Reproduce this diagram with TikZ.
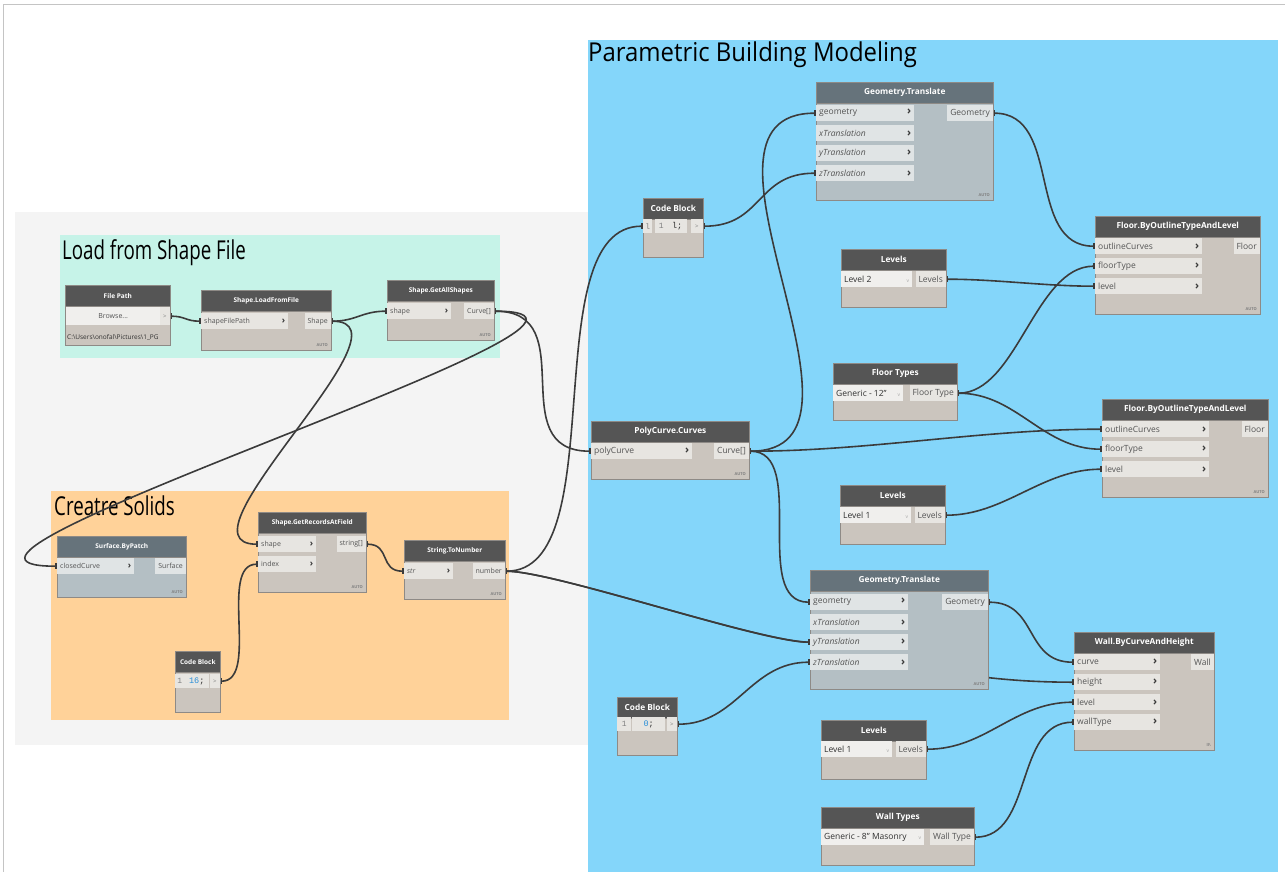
\documentclass[tikz,border=0pt]{standalone}
\usepackage{fontspec}
\setmainfont{Open Sans}
\newfontfamily\codefam{Liberation Mono}
\usepackage{graphicx}
\usetikzlibrary{arrows.meta}
\pgfdeclarelayer{bg}
\pgfdeclarelayer{wires}
\pgfsetlayers{bg,wires,main}

\definecolor{bluegrp}{HTML}{84D6FA}
\definecolor{greengrp}{HTML}{C6F3E8}
\definecolor{orangegrp}{HTML}{FFD299}
\definecolor{graybg}{HTML}{F4F4F4}
\definecolor{framec}{HTML}{C4C4C4}
\definecolor{headdark}{HTML}{555555}
\definecolor{headslate}{HTML}{66737B}
\definecolor{bodywarm}{HTML}{CBC5BE}
\definecolor{bodyslate}{HTML}{B4BFC4}
\definecolor{portwarm}{HTML}{E7E5E1}
\definecolor{portslate}{HTML}{E0E4E5}
\definecolor{ddfill}{HTML}{F0EFED}
\definecolor{edgec}{HTML}{8E8A86}
\definecolor{wirec}{HTML}{3B3B3B}
\definecolor{txt}{HTML}{555555}
\definecolor{ddtext}{HTML}{303030}
\definecolor{chevc}{HTML}{3A3A3A}
\definecolor{codeblue}{HTML}{2A8FD8}

\newcommand{\portfont}{\fontsize{8.5}{10}\selectfont}
\newcommand{\headfont}{\fontsize{8.3}{9}\selectfont\bfseries}
\newcommand{\chev}{{\color{chevc}\fontsize{11}{10}\selectfont\bfseries ›}}
\newcommand{\ddmark}{{\color{gray!70}\fontsize{5}{5}\selectfont v}}

% node frame: body, then header strip on top
\newcommand{\dynnode}[8]{%
  \node[nbody, fill=#8, minimum width=#4pt, minimum height=#5pt] (#1) at (#2,#3) {};
  \node[nhead, fill=#7, minimum width=#4pt] (#1-h) at (#2,#3) {#6};}
% input row with label on the left and chevron on the right
\newcommand{\inport}[6]{%
  \node[prow, fill=#6, minimum width=#4pt] (#1) at (#2,#3)
    {\makebox[\dimexpr#4pt-6pt\relax][l]{#5\hfill\chev}};}
% output label, right aligned to the node edge
\newcommand{\outport}[5]{%
  \node[prow, fill=#5, anchor=north east] (#1) at (#2,#3) {#4};}
% drop-down selector row
\newcommand{\ddport}[5]{%
  \node[prow, fill=ddfill, text=ddtext, minimum width=#4pt] (#1) at (#2,#3)
    {\makebox[\dimexpr#4pt-6pt\relax][l]{#5\hfill\ddmark}};}
\newcommand{\autotag}[4]{\node[autotag] (#1) at (#2,#3) {#4};}

\begin{document}
\begin{tikzpicture}[x=1pt,y=-1pt,
  nbody/.style={anchor=north west, draw=edgec, line width=0.6pt, inner sep=0pt},
  nhead/.style={anchor=north west, draw=edgec, line width=0.6pt, inner sep=0pt,
    minimum height=21pt, text=white, font=\headfont},
  prow/.style={anchor=north west, inner xsep=3pt, inner ysep=0pt, minimum height=16pt,
    text=txt, font=\portfont},
  autotag/.style={anchor=south east, inner sep=0pt, text=gray,
    font=\fontsize{4}{4}\selectfont\bfseries},
  gutter/.style={anchor=north west, fill=portwarm, text=gray, inner xsep=1pt, inner ysep=0pt,
    minimum height=14pt, font=\codefam\fontsize{8}{9}\selectfont},
  coderow/.style={anchor=north west, fill=portwarm, text=ddtext, inner xsep=2pt, inner ysep=0pt,
    minimum height=14pt, font=\codefam\fontsize{8.5}{9}\selectfont},
  cport/.style={anchor=north east, fill=portwarm, text=gray, inner xsep=1pt, inner ysep=0pt,
    minimum height=14pt, minimum width=10pt, font=\fontsize{6}{7}\selectfont},
  grptitle/.style={anchor=base west, inner sep=0pt, text=black, font=\fontsize{26}{30}\selectfont},
  wire/.style={draw=wirec, line width=1.6pt,
    {Rectangle[length=2pt,width=6pt]}-{Rectangle[length=2pt,width=6pt]}},
]
\useasboundingbox (0,0) rectangle (1285,872);

% ---------------- groups ----------------
\begin{pgfonlayer}{bg}
  \fill[white] (0,0) rectangle (1285,872);
  \draw[framec, line width=1pt] (3,872) -- (3,5) -- (1285,5);
  \fill[graybg] (15,212) rectangle (588,745);
  \fill[greengrp] (60,235) rectangle (500,358);
  \fill[orangegrp] (51,491) rectangle (509,720);
  \fill[bluegrp] (588,40) rectangle (1278,872);
  \node[grptitle] (t-pbm) at (588,62) {\scalebox{0.92}[1]{Parametric Building Modeling}};
  \node[grptitle] (t-load) at (62,259) {\scalebox{0.72}[1]{Load from Shape File}};
  \node[grptitle] (t-solid) at (54,515) {\scalebox{0.72}[1]{Creatre Solids}};
\end{pgfonlayer}

% ---------------- left nodes ----------------
\begin{scope}
\renewcommand{\portfont}{\fontsize{7}{8}\selectfont}
\renewcommand{\headfont}{\fontsize{6.5}{7}\selectfont\bfseries}
\renewcommand{\chev}{{\color{chevc}\fontsize{9}{9}\selectfont\bfseries ›}}

\dynnode{fp}{65}{285}{105}{60}{File Path}{headdark}{bodywarm}
\node[prow, fill=ddfill, minimum width=94pt, minimum height=18pt] (fp-btn) at (66,307) {Browse...};
\node[cport, minimum height=18pt] (fp-port) at (170,307) {>};
\node[anchor=west, inner sep=0pt, text=ddtext, font=\fontsize{6.5}{7}\selectfont] (fp-path)
  at (67,338) {C:\textbackslash Users\textbackslash onofal\textbackslash Pictures\textbackslash 1\_PG};

\dynnode{lf}{201}{290}{130}{60}{Shape.LoadFromFile}{headdark}{bodywarm}
\inport{lf-in}{201}{313}{87}{shapeFilePath}{portwarm}
\outport{lf-out}{331}{313}{Shape}{portwarm}
\autotag{lf-a}{328}{347}{AUTO}

\dynnode{ga}{387}{280}{107}{60}{Shape.GetAllShapes}{headdark}{bodywarm}
\inport{ga-in}{387}{303}{64}{shape}{portwarm}
\outport{ga-out}{494}{303}{Curve[]}{portwarm}
\autotag{ga-a}{491}{337}{AUTO}

\dynnode{sb}{57}{536}{129}{61}{Surface.ByPatch}{headslate}{bodyslate}
\inport{sb-in}{57}{558}{77}{closedCurve}{portslate}
\outport{sb-out}{186}{558}{Surface}{portslate}
\autotag{sb-a}{183}{594}{AUTO}

\dynnode{gr}{258}{512}{108}{80}{Shape.GetRecordsAtField}{headdark}{bodywarm}
\inport{gr-shape}{258}{536}{58}{shape}{portwarm}
\inport{gr-index}{258}{556}{58}{index}{portwarm}
\outport{gr-out}{366}{536}{string[]}{portwarm}
\autotag{gr-a}{363}{589}{AUTO}

\dynnode{tn}{404}{540}{101}{59}{String.ToNumber}{headdark}{bodywarm}
\inport{tn-in}{404}{563}{49}{\textit{str}}{portwarm}
\outport{tn-out}{505}{563}{number}{portwarm}
\autotag{tn-a}{502}{596}{AUTO}

\dynnode{cbl}{175}{651}{45}{61}{Code Block}{headdark}{bodywarm}
\node[gutter, minimum width=9pt] (cbl-ln) at (175,674) {1};
\node[coderow, minimum width=25pt] (cbl-code) at (184,674) {\textcolor{codeblue}{16};};
\node[cport] (cbl-port) at (220,674) {>};
\end{scope}

% ---------------- right nodes ----------------
\dynnode{cbt}{643}{198}{60}{59}{Code Block}{headdark}{bodywarm}
\node[gutter, minimum width=9pt, anchor=north west] (cbt-in) at (643,219) {l};
\node[gutter, minimum width=12pt] (cbt-ln) at (655,219) {1};
\node[coderow, minimum width=20pt] (cbt-code) at (667,219) {l;};
\node[cport, minimum width=12pt] (cbt-port) at (703,219) {>};

\dynnode{gtt}{816}{82}{177}{118}{Geometry.Translate}{headslate}{bodyslate}
\inport{gtt-geo}{816}{105}{98}{geometry}{portslate}
\inport{gtt-x}{816}{125}{98}{\textit{xTranslation}}{portslate}
\inport{gtt-y}{816}{145}{98}{\textit{yTranslation}}{portslate}
\inport{gtt-z}{816}{165}{98}{\textit{zTranslation}}{portslate}
\outport{gtt-out}{993}{105}{Geometry}{portslate}
\autotag{gtt-a}{990}{197}{AUTO}

\dynnode{lv2}{841}{249}{105}{58}{Levels}{headdark}{bodywarm}
\ddport{lv2-dd}{841}{271}{71}{Level 2}
\outport{lv2-out}{946}{271}{Levels}{portwarm}

\dynnode{fl1}{1095}{216}{165}{98}{Floor.ByOutlineTypeAndLevel}{headdark}{bodywarm}
\inport{fl1-oc}{1095}{238}{107}{outlineCurves}{portwarm}
\inport{fl1-ft}{1095}{258}{107}{floorType}{portwarm}
\inport{fl1-lv}{1095}{278}{107}{level}{portwarm}
\outport{fl1-out}{1260}{238}{Floor}{portwarm}
\autotag{fl1-a}{1257}{311}{AUTO}

\dynnode{ft}{833}{363}{124}{57}{Floor Types}{headdark}{bodywarm}
\ddport{ft-dd}{833}{385}{70}{Generic - 12"}
\outport{ft-out}{957}{385}{Floor Type}{portwarm}

\dynnode{pc}{591}{421}{158}{58}{PolyCurve.Curves}{headdark}{bodywarm}
\inport{pc-in}{591}{443}{101}{polyCurve}{portwarm}
\outport{pc-out}{749}{443}{Curve[]}{portwarm}
\autotag{pc-a}{746}{476}{AUTO}

\dynnode{fl2}{1102}{399}{166}{98}{Floor.ByOutlineTypeAndLevel}{headdark}{bodywarm}
\inport{fl2-oc}{1102}{421}{107}{outlineCurves}{portwarm}
\inport{fl2-ft}{1102}{441}{107}{floorType}{portwarm}
\inport{fl2-lv}{1102}{461}{107}{level}{portwarm}
\outport{fl2-out}{1268}{421}{Floor}{portwarm}
\autotag{fl2-a}{1265}{494}{AUTO}

\dynnode{lv1}{840}{485}{105}{59}{Levels}{headdark}{bodywarm}
\ddport{lv1-dd}{840}{507}{71}{Level 1}
\outport{lv1-out}{945}{507}{Levels}{portwarm}

\dynnode{gtb}{810}{570}{178}{119}{Geometry.Translate}{headslate}{bodyslate}
\inport{gtb-geo}{810}{594}{98}{geometry}{portslate}
\inport{gtb-x}{810}{614}{98}{\textit{xTranslation}}{portslate}
\inport{gtb-y}{810}{634}{98}{\textit{yTranslation}}{portslate}
\inport{gtb-z}{810}{654}{98}{\textit{zTranslation}}{portslate}
\outport{gtb-out}{988}{594}{Geometry}{portslate}
\autotag{gtb-a}{985}{686}{AUTO}

\dynnode{cbb}{617}{697}{60}{58}{Code Block}{headdark}{bodywarm}
\node[gutter, minimum width=14pt] (cbb-ln) at (617,717) {1};
\node[coderow, minimum width=33pt] (cbb-code) at (632,717) {\textcolor{codeblue}{0};};
\node[cport] (cbb-port) at (677,717) {>};

\dynnode{wall}{1074}{632}{140}{118}{Wall.ByCurveAndHeight}{headdark}{bodywarm}
\inport{wall-c}{1074}{654}{86}{curve}{portwarm}
\inport{wall-h}{1074}{674}{86}{height}{portwarm}
\inport{wall-lv}{1074}{694}{86}{level}{portwarm}
\inport{wall-wt}{1074}{714}{86}{wallType}{portwarm}
\outport{wall-out}{1214}{654}{Wall}{portwarm}
\autotag{wall-a}{1211}{747}{ll\textbackslash}

\dynnode{lv1b}{821}{720}{105}{59}{Levels}{headdark}{bodywarm}
\ddport{lv1b-dd}{821}{741}{71}{Level 1}
\outport{lv1b-out}{926}{741}{Levels}{portwarm}

\dynnode{wt}{821}{807}{153}{58}{Wall Types}{headdark}{bodywarm}
\ddport{wt-dd}{821}{829}{103}{Generic - 8" Masonry}
\outport{wt-out}{974}{829}{Wall Type}{portwarm}

% ---------------- wires ----------------
\begin{pgfonlayer}{wires}
\draw[wire] (fp-port.east) .. controls +(15,0) and +(-15,0) .. (lf-in.west);
\draw[wire] (lf-out.east) .. controls +(25,0) and +(-25,0) .. (ga-in.west);
\draw[wire] (lf-out.east) .. controls +(90,0) and +(-90,0) .. (gr-shape.west);
\draw[wire] (ga-out.east) .. controls +(200,0) and +(-200,0) .. (sb-in.west);
\draw[wire] (ga-out.east) .. controls +(90,0) and +(-90,0) .. (pc-in.west);
\draw[wire] (gr-out.east) .. controls +(25,0) and +(-25,0) .. (tn-in.west);
\draw[wire] (cbl-port.east) .. controls +(40,0) and +(-40,0) .. (gr-index.west);
\draw[wire] (tn-out.east) .. controls +(110,0) and +(-110,0) .. (cbt-in.west);
\draw[wire] (tn-out.east) .. controls +(50,0) and +(-50,0) .. (gtb-y.west);
\draw[wire] (tn-out.east) .. controls +(50,0) and +(-50,0) .. (gtb-y.west)
  .. controls +(40,0) and +(-150,0) .. (wall-h.west);
\draw[wire] (cbt-port.east) .. controls +(60,0) and +(-60,0) .. (gtt-z.west);
\draw[wire] (pc-out.east) .. controls +(150,0) and +(-150,0) .. (gtt-geo.west);
\draw[wire] (pc-out.east) .. controls +(120,0) and +(-120,0) .. (fl2-oc.west);
\draw[wire] (pc-out.east) .. controls +(60,0) and +(-60,0) .. (gtb-geo.west);
\draw[wire] (gtt-out.east) .. controls +(70,0) and +(-70,0) .. (fl1-oc.west);
\draw[wire] (lv2-out.east) .. controls +(50,0) and +(-50,0) .. (fl1-lv.west);
\draw[wire] (ft-out.east) .. controls +(60,0) and +(-60,0) .. (fl1-ft.west);
\draw[wire] (ft-out.east) .. controls +(60,0) and +(-60,0) .. (fl2-ft.west);
\draw[wire] (lv1-out.east) .. controls +(60,0) and +(-60,0) .. (fl2-lv.west);
\draw[wire] (gtb-out.east) .. controls +(50,0) and +(-50,0) .. (wall-c.west);
\draw[wire] (cbb-port.east) .. controls +(60,0) and +(-60,0) .. (gtb-z.west);
\draw[wire] (lv1b-out.east) .. controls +(60,0) and +(-60,0) .. (wall-lv.west);
\draw[wire] (wt-out.east) .. controls +(60,0) and +(-60,0) .. (wall-wt.west);
\end{pgfonlayer}
\end{tikzpicture}
\end{document}
